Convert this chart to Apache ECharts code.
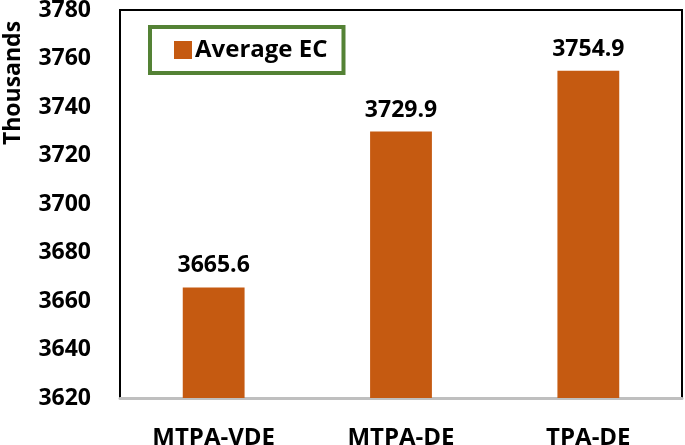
<!DOCTYPE html>
<html>
<head>
<meta charset="utf-8">
<script src="https://cdn.jsdelivr.net/npm/echarts@6/dist/echarts.min.js"></script>
<style>
  html, body { margin: 0; padding: 0; background: #fff; }
  #chart { width: 685px; height: 445px; }
</style>
</head>
<body>
<div id="chart"></div>
<script>
// 数据
const categories = ['MTPA-VDE', 'MTPA-DE', 'TPA-DE'];
const avgEC = [3665.6, 3729.9, 3754.9];
const seriesName = 'Average EC';

const chart = echarts.init(document.getElementById('chart'));

const font = '"Open Sans", sans-serif';

const option = {
  backgroundColor: '#fff',
  animation: false,
  grid: {
    left: 120,
    right: 3,
    top: 10,
    bottom: 47,
    outerBoundsMode: 'none',
    show: true,
    borderColor: '#000',
    borderWidth: 2,
    backgroundColor: 'transparent'
  },
  legend: {
    left: 150,
    top: 27,
    data: [seriesName],
    itemWidth: 18,
    itemHeight: 18,
    itemGap: 0,
    padding: [11, 16, 11, 24],
    borderColor: '#548235',
    borderWidth: 4,
    icon: 'rect',
    textStyle: {
      fontFamily: font,
      fontWeight: 'bold',
      fontSize: 24,
      color: '#000',
      padding: [0, 0, 0, -2]
    }
  },
  graphic: [{
    type: 'text',
    x: 13,
    y: 83,
    rotation: Math.PI / 2,
    style: {
      text: 'Thousands',
      fontFamily: font,
      fontWeight: 'bold',
      fontSize: 23,
      fill: '#000',
      align: 'center',
      verticalAlign: 'middle'
    }
  }],
  xAxis: {
    type: 'category',
    data: categories,
    axisLine: { show: true, lineStyle: { color: '#bfbfbf', width: 3 } },
    axisTick: { show: false },
    axisLabel: {
      margin: 28,
      fontFamily: font,
      fontWeight: 'bold',
      fontSize: 24,
      color: '#000'
    }
  },
  yAxis: {
    type: 'value',
    min: 3620,
    max: 3780,
    interval: 20,
    splitLine: { show: false },
    axisLine: { show: true, lineStyle: { color: '#000', width: 2 } },
    axisTick: { show: false },
    axisLabel: {
      margin: 29,
      formatter: v => String(v),
      fontFamily: font,
      fontWeight: 'bold',
      fontSize: 23,
      color: '#000'
    }
  },
  series: [{
    name: seriesName,
    type: 'bar',
    data: avgEC,
    barWidth: '33%',
    itemStyle: { color: '#C55A11' },
    label: {
      show: true,
      position: 'top',
      distance: 10,
      fontFamily: font,
      fontWeight: 'bold',
      fontSize: 23,
      color: '#000'
    }
  }]
};

chart.setOption(option);
</script>
</body>
</html>
